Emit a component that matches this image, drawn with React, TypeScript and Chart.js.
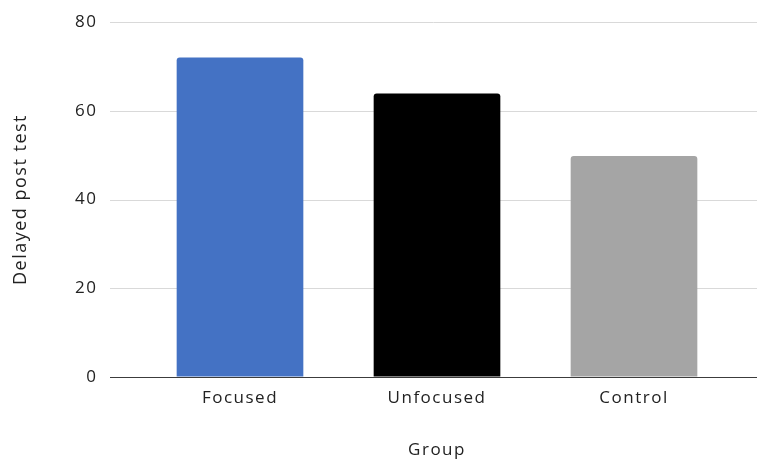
import React, { useEffect, useRef } from 'react';
import { Chart, registerables } from 'chart.js';

Chart.register(...registerables);

const categories = ['Focused', 'Unfocused', 'Control'];
const delayedPostTest = [72, 63.9, 49.8];
const barColors = ['#4472C4', '#000000', '#A5A5A5'];
const yTickValues = [0, 20, 40, 60, 80];

const TEXT = '#222222';
const FONT = 'Open Sans';

const gridPlugin = {
  id: 'extendedGrid',
  beforeDraw(chart: any) {
    (chart.ctx as any).letterSpacing = '1.5px';
  },
  beforeDatasetsDraw(chart: any) {
    const { ctx, chartArea, scales } = chart;
    const y = scales.y;
    ctx.save();
    y.ticks.forEach((t: any) => {
      if (t.value === 0) return;
      const py = Math.round(y.getPixelForValue(t.value)) + 0.5;
      ctx.beginPath();
      ctx.strokeStyle = '#d9d9d9';
      ctx.lineWidth = 1;
      ctx.moveTo(chartArea.left - 31.5, py);
      ctx.lineTo(chart.width, py);
      ctx.stroke();
    });
    ctx.restore();
  },
  afterDatasetsDraw(chart: any) {
    const { ctx, chartArea, scales } = chart;
    const y = scales.y;
    const py = Math.round(y.getPixelForValue(0)) + 0.5;
    ctx.save();
    ctx.beginPath();
    ctx.strokeStyle = '#3c3c3c';
    ctx.lineWidth = 1.2;
    ctx.moveTo(chartArea.left - 31.5, py);
    ctx.lineTo(chart.width, py);
    ctx.stroke();
    ctx.restore();
  },
};

export default function App() {
  const ref = useRef<HTMLCanvasElement | null>(null);
  useEffect(() => {
    if (!ref.current) return;
    const chart = new Chart(ref.current, {
      type: 'bar',
      data: {
        labels: categories,
        datasets: [
          {
            label: 'Delayed post test',
            data: delayedPostTest,
            backgroundColor: barColors,
            borderWidth: 0,
            borderRadius: { topLeft: 3, topRight: 3, bottomLeft: 0, bottomRight: 0 },
            borderSkipped: false,
            barPercentage: 0.643,
            categoryPercentage: 1,
          },
        ],
      },
      options: {
        animation: false,
        responsive: false,
        devicePixelRatio: 1,
        layout: { padding: { top: 22, right: 24.5, bottom: 0, left: 0 } },
        plugins: { legend: { display: false }, tooltip: { enabled: false } },
        scales: {
          x: {
            grid: { display: false },
            border: { display: false },
            ticks: { color: TEXT, font: { family: FONT, size: 17 }, padding: 3 },
            title: {
              display: true,
              text: 'Group',
              color: TEXT,
              font: { family: FONT, size: 17 },
              padding: { top: 0, bottom: 2 },
            },
            afterFit: (s: any) => {
              s.height = 85;
            },
          },
          y: {
            min: 0,
            max: 80,
            grid: { display: true, color: 'rgba(0,0,0,0)', drawTicks: true, tickLength: 44 },
            border: { display: false },
            afterBuildTicks: (s: any) => {
              s.ticks = yTickValues.map((v) => ({ value: v }));
            },
            ticks: { color: TEXT, font: { family: FONT, size: 17 }, padding: 0 },
            title: {
              display: true,
              text: 'Delayed post test',
              color: TEXT,
              font: { family: FONT, size: 18 },
              padding: { top: 10.5, bottom: 0 },
            },
            afterFit: (s: any) => {
              s.width = 141.5;
            },
          },
        },
      },
      plugins: [gridPlugin],
    });
    return () => chart.destroy();
  }, []);
  return (
    <div style={{ position: 'absolute', left: 0, top: 0, width: 757, height: 462, background: '#fff' }}>
      <canvas ref={ref} width={757} height={462} />
    </div>
  );
}
